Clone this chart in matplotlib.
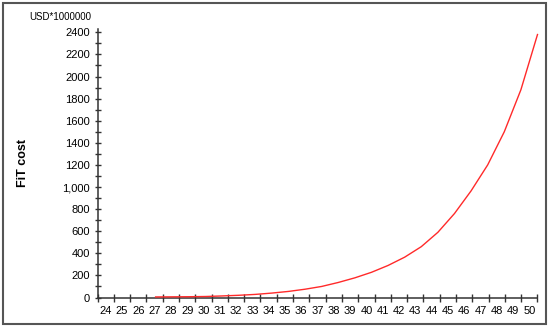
import matplotlib
matplotlib.use("Agg")
import matplotlib.pyplot as plt
from matplotlib.patches import Rectangle

plt.rcParams['font.family'] = ['Liberation Sans', 'DejaVu Sans']

# x categories shown on the axis
categories = [24, 25, 26, 27, 28, 29, 30, 31, 32, 33, 34, 35, 36, 37,
              38, 39, 40, 41, 42, 43, 44, 45, 46, 47, 48, 49, 50]

# FiT cost series (USD*1000000)
line_years = [27, 28, 29, 30, 31, 32, 33, 34, 35, 36, 37, 38,
              39, 40, 41, 42, 43, 44, 45, 46, 47, 48, 49, 50]
fit_cost = [5, 6, 7, 9, 14, 20, 28, 40, 55, 75, 100, 136,
            178, 228, 290, 365, 460, 590, 760, 965, 1200, 1500, 1880, 2380]

y_ticks = [0, 200, 400, 600, 800, 1000, 1200, 1400, 1600, 1800, 2000, 2200, 2400]
y_labels = ["0", "200", "400", "600", "800", "1,000", "1200", "1400",
            "1600", "1800", "2000", "2200", "2400"]

W, H = 550, 327
fig = plt.figure(figsize=(W / 100, H / 100), dpi=100)
ax = fig.add_axes([97.5 / W, (H - 297.5) / H, 440 / W, (297.5 - 29) / H])

ax.set_ylim(0, 2430)
ax.set_xlim(categories[0] - 0.5, categories[-1] + 0.5)

for s in ["top", "right"]:
    ax.spines[s].set_visible(False)
for s in ["left", "bottom"]:
    ax.spines[s].set_color("#333333")
    ax.spines[s].set_linewidth(1.1)

# y ticks
ax.set_yticks(y_ticks)
ax.set_yticklabels(y_labels)
ax.set_yticks([v + 100 for v in y_ticks[:-1]], minor=True)
ax.tick_params(axis="y", which="both", direction="inout", length=4.5,
               width=1, color="#333333", labelsize=8, pad=3)

# x ticks: marks at category edges, labels at centres
ax.set_xticks([c - 0.5 for c in categories] + [categories[-1] + 0.5])
ax.set_xticklabels([])
ax.set_xticks(categories, minor=True)
ax.set_xticklabels([str(c) for c in categories], minor=True)
ax.tick_params(axis="x", which="major", direction="inout", length=6,
               width=1, color="#333333")
ax.tick_params(axis="x", which="minor", length=0, labelsize=8, pad=6)

# line series drawn on its own x scale
ax2 = ax.twiny()
ax2.set_xlim(categories[0] - 0.5, line_years[-1])
ax2.plot(line_years, fit_cost, color="#ff2a2a", lw=1.0, clip_on=False)
ax2.axis("off")

ax.set_ylabel("FiT cost", fontsize=9, fontweight="bold")
ax.yaxis.set_label_coords(-0.156, 0.5)
fig.text(91 / W, 1 - 17 / H, "USD*1000000", ha="right", va="center", fontsize=7)

fig.patches.append(Rectangle((3 / W, 3 / H), 543 / W, 321 / H,
                             transform=fig.transFigure, fill=False,
                             ec="#555555", lw=1.5))

fig.savefig("out.png", dpi=100)
